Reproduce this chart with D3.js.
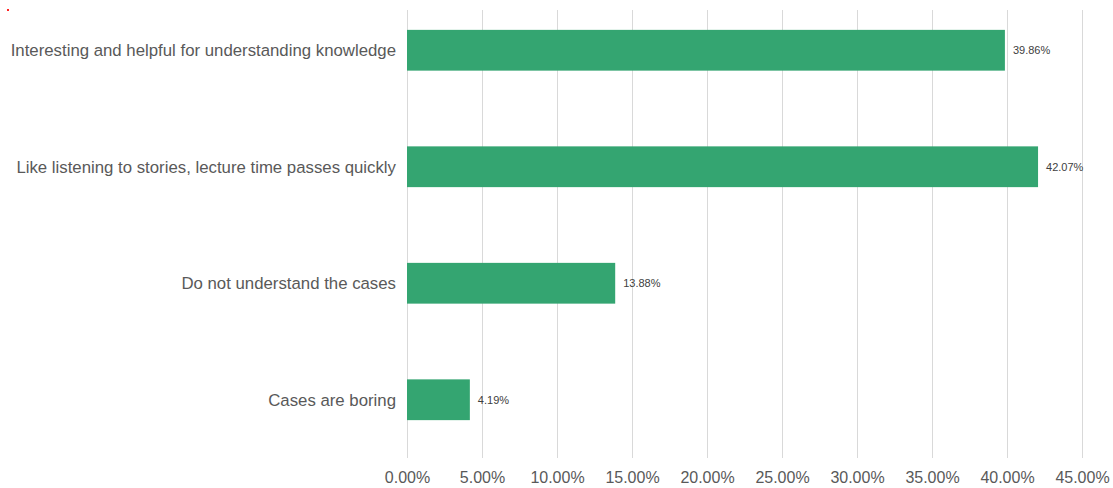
<!doctype html>
<html>
  <head>
    <script src="https://cdnjs.cloudflare.com/ajax/libs/d3/7.8.5/d3.min.js"></script>
    <style>
      body { margin: 0; background: white; }
      text { font-family: "Liberation Sans", Arial, sans-serif; }
      .cat { font-size: 16.8px; fill: #595959; text-anchor: end; }
      .tick text { font-size: 16px; fill: #595959; }
      .val { font-size: 11px; fill: #404040; }
    </style>
  </head>
  <body>
    <svg width="1113" height="488"></svg>
    <script>
      var categories = [
        "Interesting and helpful for understanding knowledge",
        "Like listening to stories, lecture time passes quickly",
        "Do not understand the cases",
        "Cases are boring"
      ];
      var values = [39.86, 42.07, 13.88, 4.19];
      var ticks = [0, 5, 10, 15, 20, 25, 30, 35, 40, 45];

      var svg = d3.select("svg");

      // stray red pixel in the corner of the original
      svg.append("rect").attr("x", 7).attr("y", 9).attr("width", 2).attr("height", 2).attr("fill", "#f22");

      var x = d3.scaleLinear().domain([0, 45]).range([407, 1082]);
      var y = d3.scaleBand().domain(categories).range([-8, 458])
        .paddingInner(0.65).paddingOuter(0.325);

      var gridTop = 10, gridBottom = 458;

      svg.append("g")
        .selectAll("line")
        .data(ticks)
        .enter()
        .append("line")
          .attr("x1", d => x(d) + 0.5).attr("x2", d => x(d) + 0.5)
          .attr("y1", gridTop).attr("y2", gridBottom)
          .attr("stroke", "#d9d9d9").attr("stroke-width", 1);

      var axis = d3.axisBottom(x).tickValues(ticks)
        .tickFormat(d => d.toFixed(2) + "%").tickSize(0).tickPadding(0);

      svg.append("g")
        .attr("transform", "translate(0,472)")
        .call(axis)
        .call(g => g.select(".domain").remove())
        .selectAll("text").attr("dy", "0.71em")
          .style("font-family", "'Liberation Sans', Arial, sans-serif");

      svg.append("g")
        .selectAll("rect")
        .data(categories)
        .enter()
        .append("rect")
          .attr("x", x(0))
          .attr("y", d => y(d))
          .attr("width", (d, i) => x(values[i]) - x(0))
          .attr("height", y.bandwidth())
          .attr("fill", "#34a571");

      svg.append("g")
        .selectAll("text")
        .data(categories)
        .enter()
        .append("text")
          .attr("class", "cat")
          .attr("x", 396)
          .attr("y", d => y(d) + y.bandwidth() / 2)
          .attr("dy", "0.35em")
          .text(d => d);

      svg.append("g")
        .selectAll("text")
        .data(categories)
        .enter()
        .append("text")
          .attr("class", "val")
          .attr("x", (d, i) => x(values[i]) + 8)
          .attr("y", d => y(d) + y.bandwidth() / 2)
          .attr("dy", "0.35em")
          .text((d, i) => values[i].toFixed(2) + "%");
    </script>
  </body>
</html>
